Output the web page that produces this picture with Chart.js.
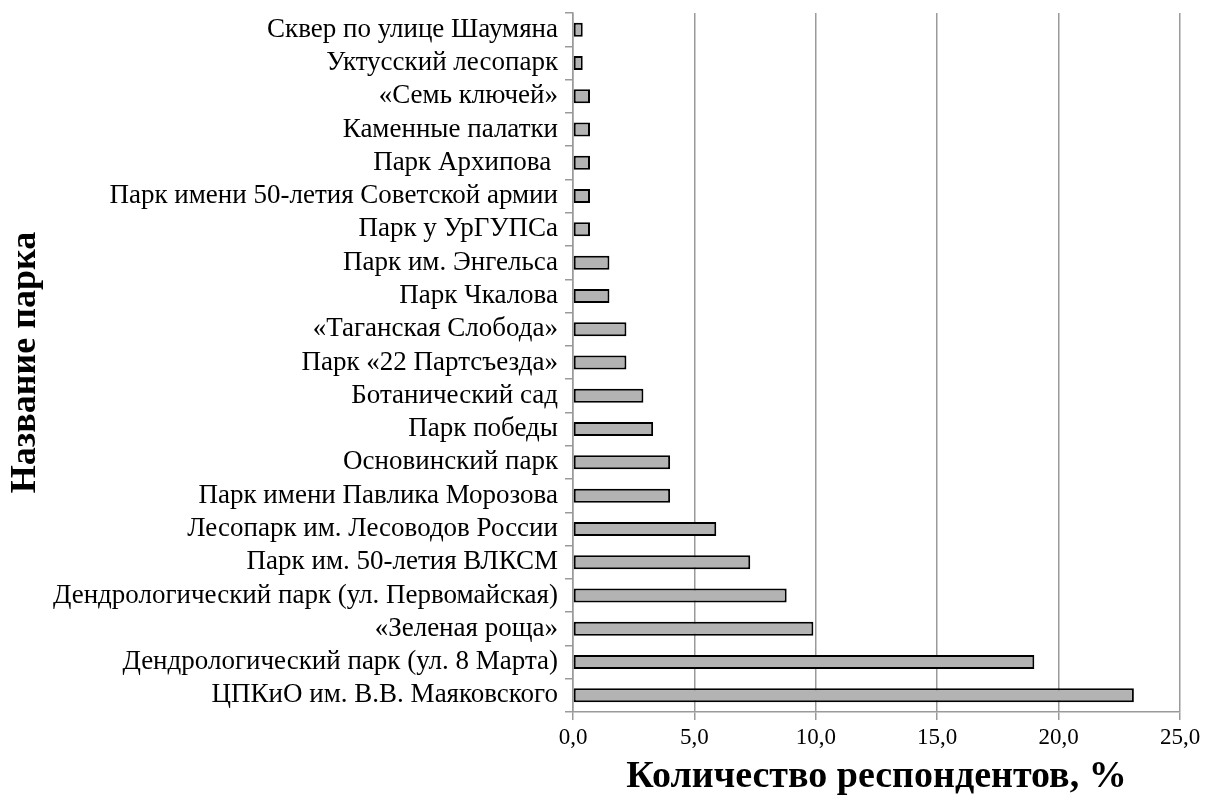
<!DOCTYPE html>
<html>
<head>
<meta charset="utf-8">
<script src="https://cdn.jsdelivr.net/npm/chart.js@4/dist/chart.umd.min.js"></script>
<style>
  html, body { margin: 0; padding: 0; background: #fff; }
  #wrap { width: 1208px; height: 800px; }
</style>
</head>
<body>
<div id="wrap"><canvas id="chart" width="1208" height="800"></canvas></div>
<script>
const parks = [
  'Сквер по улице Шаумяна',
  'Уктусский лесопарк',
  '«Семь ключей»',
  'Каменные палатки',
  'Парк Архипова ',
  'Парк имени 50-летия Советской армии',
  'Парк у УрГУПСа',
  'Парк им. Энгельса',
  'Парк Чкалова',
  '«Таганская Слобода»',
  'Парк «22 Партсъезда»',
  'Ботанический сад',
  'Парк победы',
  'Основинский парк',
  'Парк имени Павлика Морозова',
  'Лесопарк им. Лесоводов России',
  'Парк им. 50-летия ВЛКСМ',
  'Дендрологический парк (ул. Первомайская)',
  '«Зеленая роща»',
  'Дендрологический парк (ул. 8 Марта)',
  'ЦПКиО им. В.В. Маяковского'
];
const respondents = [0.4, 0.4, 0.7, 0.7, 0.7, 0.7, 0.7, 1.5, 1.5, 2.2, 2.2, 2.9, 3.3, 4.0, 4.0, 5.9, 7.3, 8.8, 9.9, 19.0, 23.1];
const xTicks = [0, 5, 10, 15, 20, 25];

const serif = '"Liberation Serif", "Times New Roman", serif';

new Chart(document.getElementById('chart').getContext('2d'), {
  type: 'bar',
  data: {
    labels: parks,
    datasets: [{
      data: respondents,
      backgroundColor: '#b3b3b3',
      borderColor: '#000000',
      borderWidth: 2,
      borderSkipped: false,
      barPercentage: 0.42,
      categoryPercentage: 1
    }]
  },
  options: {
    indexAxis: 'y',
    responsive: false,
    animation: false,
    layout: { padding: { top: 13, right: 28, bottom: 0, left: 4 } },
    plugins: {
      legend: { display: false },
      tooltip: { enabled: false }
    },
    scales: {
      x: {
        min: xTicks[0],
        max: xTicks[xTicks.length - 1],
        afterBuildTicks: axis => { axis.ticks = xTicks.map(v => ({ value: v })); },
        afterFit: axis => { axis.height = 88; },
        grid: { color: '#9a9a9a', lineWidth: 1.5, tickLength: 8 },
        border: { color: '#9a9a9a', width: 1.5 },
        ticks: {
          color: '#000',
          font: { family: serif, size: 23 },
          padding: 4,
          maxRotation: 0,
          callback: v => v.toFixed(1).replace('.', ',')
        },
        title: {
          display: true,
          text: 'Количество респондентов, %',
          color: '#000',
          font: { family: serif, size: 38, weight: 'bold' },
          padding: { top: 2, bottom: 0 }
        }
      },
      y: {
        afterFit: axis => {
          axis.width = 569;
          // labels sit inside their rows, no extra room above/below
          axis.paddingTop = 0;
          axis.paddingBottom = 0;
        },
        grid: { drawOnChartArea: false, color: '#9a9a9a', lineWidth: 1.5, tickLength: 8 },
        border: { color: '#9a9a9a', width: 1.5 },
        ticks: {
          color: '#000',
          font: { family: serif, size: 27 },
          padding: 7,
          autoSkip: false
        },
        title: {
          display: true,
          text: 'Название парка',
          color: '#000',
          font: { family: serif, size: 36, weight: 'bold' },
          padding: { top: 0, bottom: 0 }
        }
      }
    }
  }
});
</script>
</body>
</html>
